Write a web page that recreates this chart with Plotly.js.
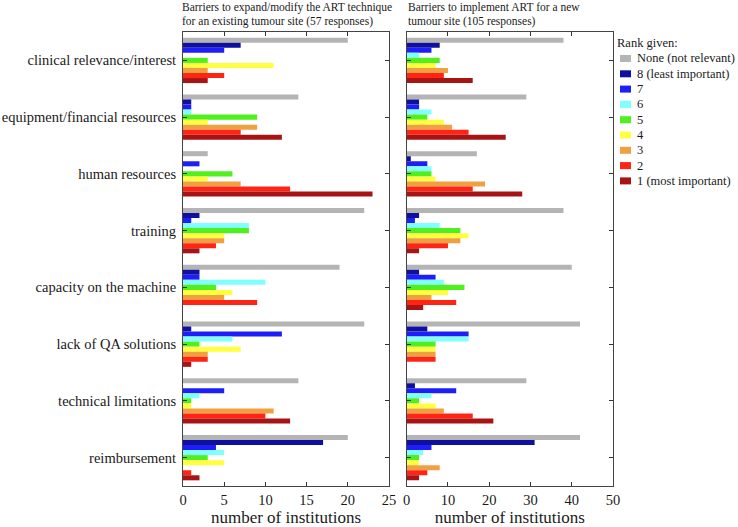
<!DOCTYPE html>
<html>
<head>
<meta charset="utf-8">
<script src="https://cdn.plot.ly/plotly-3.0.1.min.js"></script>
<style>html,body{margin:0;padding:0;background:#fff;}#chart{width:738px;height:527px;}</style>
</head>
<body>
<div id="chart"></div>
<script>
// Barrier categories (top to bottom)
const categories = [
  'clinical relevance/interest',
  'equipment/financial resources',
  'human resources',
  'training',
  'capacity on the machine',
  'lack of QA solutions',
  'technical limitations',
  'reimbursement'
];

// Rank labels (legend order)
const rankNames = [
  'None (not relevant)', '8 (least important)', '7', '6', '5', '4', '3', '2', '1 (most important)'
];
const rankColors = [
  '#b4b4b4', '#10109e', '#1e1efa', '#80ffff', '#50f01e', '#ffff40', '#f0a040', '#ff2414', '#a81414'
];

// Left panel: expand/modify ART technique for an existing tumour site (57 responses)
const leftNone = [20, 14, 3, 22, 19, 22, 14, 20];
const left8    = [7, 1, 0, 2, 2, 1, 0, 17];
const left7    = [5, 1, 2, 1, 2, 12, 5, 4];
const left6    = [0, 1, 0, 8, 10, 6, 2, 5];
const left5    = [3, 9, 6, 8, 4, 2, 1, 3];
const left4    = [11, 3, 3, 5, 6, 7, 1, 5];
const left3    = [3, 9, 7, 5, 5, 3, 11, 0];
const left2    = [5, 7, 13, 4, 9, 3, 10, 1];
const left1    = [3, 12, 23, 2, 0, 1, 13, 2];

// Right panel: implement ART for a new tumour site (105 responses)
const rightNone = [38, 29, 17, 38, 40, 42, 29, 42];
const right8    = [8, 3, 1, 3, 3, 5, 2, 31];
const right7    = [6, 3, 5, 2, 7, 15, 12, 6];
const right6    = [3, 6, 6, 8, 9, 15, 6, 4];
const right5    = [8, 5, 6, 13, 14, 7, 3, 3];
const right4    = [7, 9, 7, 15, 10, 7, 7, 3];
const right3    = [10, 11, 19, 13, 6, 7, 9, 8];
const right2    = [9, 15, 16, 10, 12, 7, 16, 5];
const right1    = [16, 24, 28, 3, 4, 0, 21, 3];

const leftSeries = [leftNone, left8, left7, left6, left5, left4, left3, left2, left1];
const rightSeries = [rightNone, right8, right7, right6, right5, right4, right3, right2, right1];

const leftTitle = ['Barriers to expand/modify the ART technique', 'for an existing tumour site (57 responses)'];
const rightTitle = ['Barriers to implement ART for a new', 'tumour site (105 responses)'];
const legendTitle = 'Rank given:';

const FONT = 'Liberation Serif, Times New Roman, serif';
const TXT = '#1a1a1a';

// page geometry (pixels)
const W = 738, H = 527, ML = 183, MR = 125, MT = 32, MB = 41;
const PW = W - ML - MR, PH = H - MT - MB;
const px2x = p => (p - ML) / PW;
const py2y = p => (H - MB - p) / PH;

const traces = [];
rankNames.forEach((name, i) => {
  traces.push({
    type: 'bar', orientation: 'h', name: name,
    x: leftSeries[i], y: categories,
    xaxis: 'x', yaxis: 'y',
    marker: {color: rankColors[i], line: {width: 0}},
    showlegend: false
  });
  traces.push({
    type: 'bar', orientation: 'h', name: name,
    x: rightSeries[i], y: categories,
    xaxis: 'x2', yaxis: 'y2',
    marker: {color: rankColors[i], line: {width: 0}},
    showlegend: false
  });
});

const axisCommon = {
  showline: true, linecolor: '#444', linewidth: 1, mirror: 'ticks',
  ticks: 'inside', ticklen: 4, tickcolor: '#333', showgrid: false, zeroline: false,
  tickfont: {family: FONT, size: 14.5, color: TXT}
};
const xTitle = {text: 'number of institutions', font: {family: FONT, size: 17, color: TXT}, standoff: 4};

// manual compact legend built from rankNames / rankColors
const shapes = [];
const annotations = [];
annotations.push({xref: 'paper', yref: 'paper', x: px2x(615), y: py2y(42.5), xanchor: 'left', yanchor: 'middle',
  showarrow: false, text: legendTitle, font: {family: FONT, size: 12.5, color: TXT}});
rankNames.forEach((name, i) => {
  const cy = 58.5 + i * 15.3;
  shapes.push({type: 'rect', xref: 'paper', yref: 'paper', x0: px2x(620), x1: px2x(631),
    y0: py2y(cy - 3.5), y1: py2y(cy + 3.5), fillcolor: rankColors[i], line: {width: 0}});
  annotations.push({xref: 'paper', yref: 'paper', x: px2x(635), y: py2y(cy), xanchor: 'left', yanchor: 'middle',
    showarrow: false, text: name, font: {family: FONT, size: 12.5, color: TXT}});
});
// panel titles
[[leftTitle, 180], [rightTitle, 406]].forEach(([lines, xp]) => {
  lines.forEach((t, j) => {
    annotations.push({xref: 'paper', yref: 'paper', x: px2x(xp), y: py2y(7.5 + j * 13.8), xanchor: 'left', yanchor: 'middle',
      showarrow: false, text: t, font: {family: FONT, size: 11.5, color: TXT}});
  });
});

const layout = {
  width: W, height: H,
  margin: {l: ML, r: MR, t: MT, b: MB, autoexpand: false},
  paper_bgcolor: '#fff', plot_bgcolor: '#fff',
  font: {family: FONT, color: TXT},
  showlegend: false,
  barmode: 'group', bargap: 0.2, bargroupgap: 0,
  xaxis: Object.assign({}, axisCommon, {
    domain: [0, px2x(389)], range: [0, 25], dtick: 5, tick0: 0, ticklabelstandoff: 1, title: xTitle
  }),
  xaxis2: Object.assign({}, axisCommon, {
    domain: [px2x(406.7), 1], range: [0, 50], dtick: 10, tick0: 0, ticklabelstandoff: 1, title: xTitle
  }),
  yaxis: Object.assign({}, axisCommon, {
    autorange: 'reversed', anchor: 'x', ticklabelstandoff: 3,
    tickfont: {family: FONT, size: 14.5, color: TXT}
  }),
  yaxis2: Object.assign({}, axisCommon, {
    autorange: 'reversed', anchor: 'x2', matches: 'y', showticklabels: false
  }),
  shapes: shapes,
  annotations: annotations
};

Plotly.newPlot('chart', traces, layout, {displayModeBar: false, staticPlot: true});
</script>
</body>
</html>
